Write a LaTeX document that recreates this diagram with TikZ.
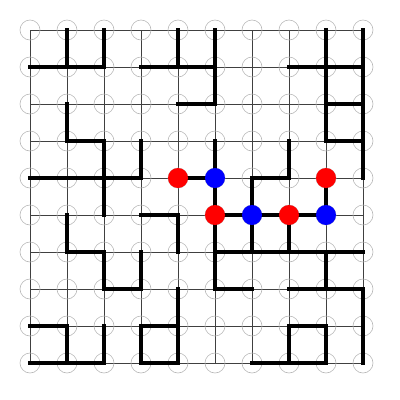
\documentclass[tikz,border=0pt]{standalone}
\begin{document}
\begin{tikzpicture}[x=1pt,y=-1pt,
  gridline/.style={draw=black!75, line width=0.8pt},
  ring/.style={circle, draw=black!28, minimum size=20pt, inner sep=0pt, line width=0.6pt},
  wall/.style={line width=4pt, line cap=rect, line join=miter},
  reddot/.style={circle, fill=red, minimum size=20pt, inner sep=0pt},
  bluedot/.style={circle, fill=blue, minimum size=20pt, inner sep=0pt}]
\useasboundingbox (0,0) rectangle (400,400);
\foreach \i in {0,...,9} \foreach \j in {0,...,9} \coordinate (p\i\j) at ({30+37*\i},{30+37*\j});
\foreach \i in {0,...,9} {
  \draw[gridline] (p\i0) -- (p\i9);
  \draw[gridline] (p0\i) -- (p9\i);
}
\foreach \i in {0,...,9} \foreach \j in {0,...,9} \node[ring] (r\i\j) at (p\i\j) {};
% walls
\draw[wall] (p10) -- (p11);
\draw[wall] (p20) -- (p21);
\draw[wall] (p01) -- (p21);
\draw[wall] (p31) -- (p51);
\draw[wall] (p40) -- (p41);
\draw[wall] (p50) -- (p52);
\draw[wall] (p42) -- (p52);
\draw[wall] (p71) -- (p91);
\draw[wall] (p80) -- (p83);
\draw[wall] (p90) -- (p94);
\draw[wall] (p82) -- (p92);
\draw[wall] (p83) -- (p93);
\draw[wall] (p12) -- (p13) -- (p23) -- (p25);
\draw[wall] (p04) -- (p34);
\draw[wall] (p33) -- (p34);
\draw[wall] (p44) -- (p54);
\draw[wall] (p53) -- (p57);
\draw[wall] (p73) -- (p74) -- (p64) -- (p66);
\draw[wall] (p84) -- (p85);
\draw[wall] (p55) -- (p85);
\draw[wall] (p75) -- (p76);
\draw[wall] (p56) -- (p96);
\draw[wall] (p86) -- (p87);
\draw[wall] (p57) -- (p67);
\draw[wall] (p77) -- (p97) -- (p99);
\draw[wall] (p78) -- (p88);
\draw[wall] (p78) -- (p79);
\draw[wall] (p88) -- (p89);
\draw[wall] (p69) -- (p89);
\draw[wall] (p35) -- (p45) -- (p46);
\draw[wall] (p15) -- (p16) -- (p26) -- (p27) -- (p37) -- (p36);
\draw[wall] (p47) -- (p49);
\draw[wall] (p08) -- (p18) -- (p19);
\draw[wall] (p09) -- (p29);
\draw[wall] (p28) -- (p29);
\draw[wall] (p38) -- (p48);
\draw[wall] (p38) -- (p39) -- (p49);
% dots
\node[reddot] (d44) at (p44) {};
\node[reddot] (d84) at (p84) {};
\node[reddot] (d55) at (p55) {};
\node[reddot] (d75) at (p75) {};
\node[bluedot] (d54) at (p54) {};
\node[bluedot] (d65) at (p65) {};
\node[bluedot] (d85) at (p85) {};
\end{tikzpicture}
\end{document}
